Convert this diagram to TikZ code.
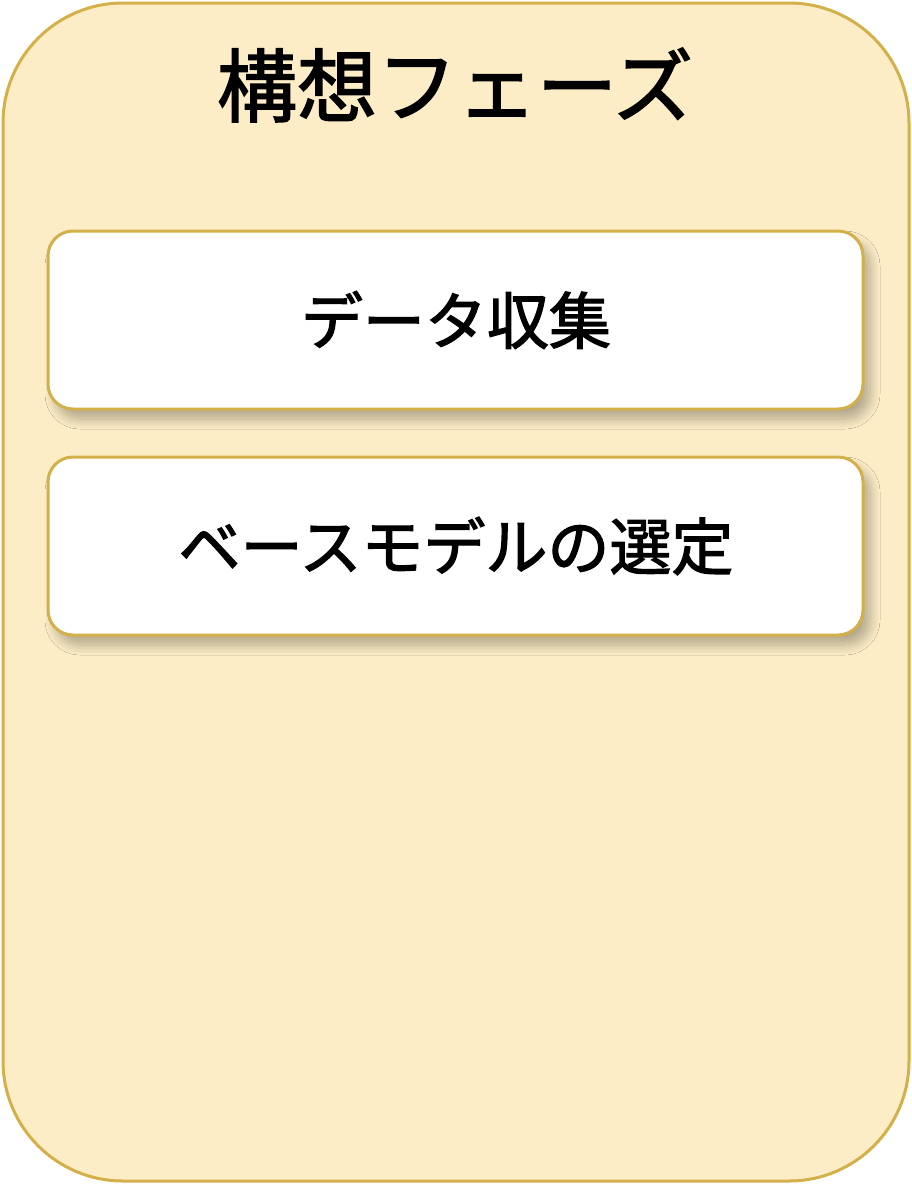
\documentclass[tikz,border=0pt]{standalone}
\usepackage{fontspec}
\newfontfamily\cjk[FakeBold=2]{Noto Sans CJK JP}
\usetikzlibrary{shadows.blur}
\definecolor{phasefill}{HTML}{FCEDC6}
\definecolor{phaseline}{HTML}{D4B04A}
\tikzset{
  phase/.style={draw=phaseline, line width=3pt, fill=phasefill, rounded corners=120pt},
  taskbox/.style={draw=phaseline, line width=3pt, fill=white, rounded corners=25pt,
    blur shadow={shadow xshift=7pt, shadow yshift=-10pt, shadow blur steps=14, shadow blur radius=10pt, shadow opacity=30}},
  tasktext/.style={font=\cjk\fontsize{62}{70}\selectfont, text=black},
  titletext/.style={font=\cjk\fontsize{80}{90}\selectfont, text=black}
}
\begin{document}
\begin{tikzpicture}[x=1pt,y=-1pt]
\useasboundingbox (0,0) rectangle (912,1184);
\draw[phase] (3,3) rectangle (909,1181);
\node[titletext] (title) at (455,85) {構想フェーズ};
\draw[taskbox] (48,231) rectangle (863,409);
\node[tasktext] (t1) at (456,320) {データ収集};
\draw[taskbox] (48,457) rectangle (863,635);
\node[tasktext] (t2) at (456,546) {ベースモデルの選定};
\end{tikzpicture}
\end{document}
